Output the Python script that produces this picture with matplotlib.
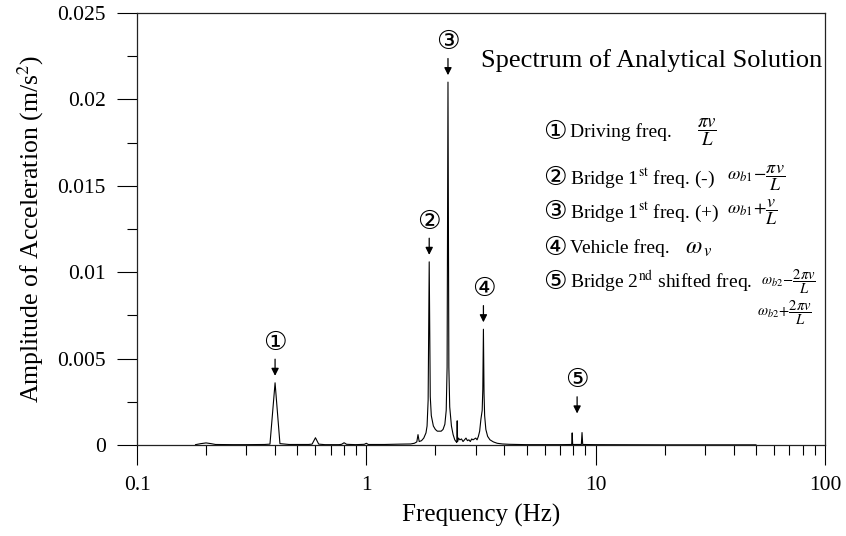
import matplotlib
matplotlib.use("Agg")
import matplotlib.pyplot as plt
from matplotlib.ticker import FixedLocator, NullFormatter, MultipleLocator

plt.rcParams["font.family"] = ["Liberation Serif", "DejaVu Sans"]
plt.rcParams["mathtext.fontset"] = "stix"

# Spectrum of the analytical solution: frequency (Hz) and amplitude (m/s^2)
freq = [
    0.18, 0.19, 0.20, 0.21, 0.22, 0.26, 0.30, 0.36, 0.38, 0.40,
    0.42, 0.46, 0.56, 0.58, 0.60, 0.62, 0.66, 0.76, 0.78, 0.80,
    0.82, 0.90, 0.98, 1.00, 1.02, 1.20, 1.40, 1.56, 1.62, 1.66,
    1.68, 1.70, 1.74, 1.78, 1.82, 1.84, 1.86, 1.88, 1.90, 1.92,
    1.96, 2.00, 2.04, 2.08, 2.12, 2.16, 2.20, 2.23, 2.25, 2.27,
    2.29, 2.31, 2.35, 2.39, 2.43, 2.46, 2.48, 2.49, 2.50, 2.52,
    2.56, 2.60, 2.64, 2.68, 2.72, 2.76, 2.80, 2.84, 2.88, 2.92,
    2.96, 3.00, 3.04, 3.08, 3.12, 3.16, 3.20, 3.22, 3.24, 3.26,
    3.28, 3.32, 3.38, 3.46, 3.58, 3.72, 3.92, 4.20, 5.00, 6.00,
    7.00, 7.86, 7.90, 7.94, 8.66, 8.72, 8.78, 10.0, 20.0, 50.0,
]
amp = [
    0.00002, 0.00008, 0.00012, 0.00008, 0.00003, 0.00002, 0.00002, 0.00003, 0.00005, 0.00360,
    0.00008, 0.00003, 0.00003, 0.00005, 0.00042, 0.00005, 0.00002, 0.00002, 0.00004, 0.00013,
    0.00004, 0.00002, 0.00004, 0.00010, 0.00003, 0.00003, 0.00005, 0.00006, 0.00010, 0.00018,
    0.00060, 0.00020, 0.00025, 0.00040, 0.00070, 0.00110, 0.00260, 0.01060, 0.00280, 0.00170,
    0.00110, 0.00090, 0.00080, 0.00080, 0.00080, 0.00090, 0.00120, 0.00200, 0.00450, 0.02100,
    0.00450, 0.00220, 0.00110, 0.00060, 0.00030, 0.00020, 0.00015, 0.00140, 0.00020, 0.00040,
    0.00030, 0.00035, 0.00020, 0.00030, 0.00040, 0.00025, 0.00030, 0.00020, 0.00035, 0.00030,
    0.00035, 0.00040, 0.00030, 0.00050, 0.00080, 0.00150, 0.00200, 0.00320, 0.00670, 0.00300,
    0.00170, 0.00090, 0.00050, 0.00030, 0.00018, 0.00010, 0.00006, 0.00004, 0.00002, 0.00002,
    0.00002, 0.00003, 0.00070, 0.00003, 0.00003, 0.00072, 0.00003, 0.00002, 0.00001, 0.00001,
]

# Marked peaks: label, frequency, amplitude of the marker base
peak_labels = ["①", "②", "③", "④", "⑤"]
peak_freq = [0.40, 1.88, 2.27, 3.24, 8.3]
peak_amp = [0.0036, 0.0106, 0.0210, 0.0067, 0.0007]

x_ticks = [0.1, 1, 10, 100]
x_ticklabels = ["0.1", "1", "10", "100"]
y_ticks = [0, 0.005, 0.01, 0.015, 0.02, 0.025]
y_ticklabels = ["0", "0.005", "0.01", "0.015", "0.02", "0.025"]

fig = plt.figure(figsize=(8.46, 5.36), dpi=100)
ax = fig.add_axes([137 / 846, 91 / 536, 688 / 846, 432 / 536])

ax.plot(freq, amp, color="black", lw=0.8)

ax.set_xscale("log")
ax.set_xlim(0.1, 100)
ax.set_ylim(0, 0.025)
ax.xaxis.set_major_locator(FixedLocator(x_ticks))
ax.set_xticklabels(x_ticklabels)
ax.xaxis.set_minor_formatter(NullFormatter())
ax.set_yticks(y_ticks)
ax.set_yticklabels(y_ticklabels)
ax.yaxis.set_minor_locator(MultipleLocator(0.0025))

ax.tick_params(which="both", direction="out", width=0.8, color="black",
               top=False, right=False)
ax.tick_params(which="major", length=14.5, labelsize=15.5, pad=8)
ax.tick_params(which="minor", length=7.2)
for s in ax.spines.values():
    s.set_linewidth(0.9)
    s.set_color("#222222")

ax.set_xlabel("Frequency (Hz)", fontsize=18, labelpad=6)
ax.set_ylabel("Amplitude of Acceleration (m/s$^2$)", fontsize=18.5, labelpad=8)

# Peak markers: circled number with a downward arrow
circ_font = ["DejaVu Sans"]
for i, (lab, f, a) in enumerate(zip(peak_labels, peak_freq, peak_amp)):
    gap = 14 if i == 4 else 5
    ax.annotate("", xy=(f, a), xytext=(0, gap + 12), textcoords="offset points",
                arrowprops=dict(arrowstyle="-|>", color="black", lw=0.9,
                                mutation_scale=11, shrinkA=0, shrinkB=gap))
    ax.annotate(lab, xy=(f, a), xytext=(0, gap + 24), textcoords="offset points",
                ha="center", va="center", fontsize=19, family=circ_font)

ax.text(0.996, 0.891, "Spectrum of Analytical Solution", transform=ax.transAxes,
        ha="right", va="center", fontsize=19)

# Legend of marked frequencies
cx, tx = 0.6076, 0.630
rows = [0.724, 0.618, 0.539, 0.456, 0.377]
names = ["Driving freq.", "Bridge 1$^{\\rm st}$ freq. (-)",
         "Bridge 1$^{\\rm st}$ freq. (+)", "Vehicle freq.",
         "Bridge 2$^{\\rm nd}$ shifted freq."]
for lab, y, name in zip(peak_labels, rows, names):
    ax.text(cx, y, lab, transform=ax.transAxes, ha="center", va="center",
            fontsize=19, family=circ_font)
    ax.text(tx, y, name, transform=ax.transAxes, ha="left", va="center",
            fontsize=14)

ax.text(0.8285, rows[0], r"$\dfrac{\pi v}{L}$", transform=ax.transAxes,
        ha="center", va="center", fontsize=13.5)
ax.text(0.8576, rows[1], r"$\omega_{b1}\!-\!\dfrac{\pi v}{L}$",
        transform=ax.transAxes, ha="left", va="center", fontsize=13)
ax.text(0.8576, rows[2], r"$\omega_{b1}\!+\!\dfrac{v}{L}$",
        transform=ax.transAxes, ha="left", va="center", fontsize=13)
ax.text(0.7965, rows[3], r"$\omega_{\,v}$", transform=ax.transAxes,
        ha="left", va="center", fontsize=17)
ax.text(0.9075, rows[4], r"$\omega_{b2}\!-\!\dfrac{2\pi v}{L}$",
        transform=ax.transAxes, ha="left", va="center", fontsize=10.5)
ax.text(0.901, 0.3056, r"$\omega_{b2}\!+\!\dfrac{2\pi v}{L}$",
        transform=ax.transAxes, ha="left", va="center", fontsize=10.5)

fig.savefig("out.png", dpi=100)
